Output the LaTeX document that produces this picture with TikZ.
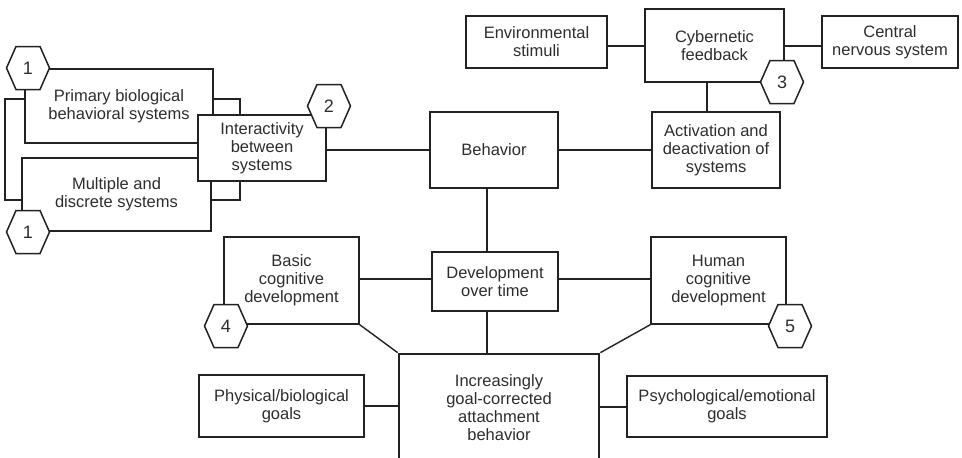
\documentclass[tikz,border=0pt]{standalone}
\usepackage{fontspec}
\setmainfont{Liberation Sans}
\usetikzlibrary{calc,backgrounds}
\definecolor{ink}{HTML}{222222}
\definecolor{txt}{HTML}{2E2E2E}
\tikzset{
  box/.style={draw=ink, line width=1.4pt, fill=white, inner sep=0pt, align=center,
    text=txt, font=\fontsize{16.5}{18}\selectfont},
  heavybox/.style={box, line width=2.7pt},
  midbox/.style={box, line width=2pt},
  link/.style={draw=ink, line width=2pt},
  thinlink/.style={draw=ink, line width=1.4pt},
  hexedge/.style={draw=ink, line width=1.5pt, fill=white},
  hexnum/.style={text=txt, font=\fontsize{18}{18}\selectfont, inner sep=0pt},
}
% numbered hexagon badge: name, x, y, label
\newcommand\hexmark[4]{%
  \begin{scope}[shift={(#2,#3)}]
    \filldraw[hexedge] (-21.5,0) -- (-12,-21.5) -- (12,-21.5) -- (21.5,0)
      -- (12,21.5) -- (-12,21.5) -- cycle;
    \node[hexnum] (#1) at (0,0) {#4};
  \end{scope}}
\begin{document}
\begin{tikzpicture}[x=1pt, y=-1pt]
\useasboundingbox (0,0) rectangle (962,458);
\clip (0,0) rectangle (962,458);

% boxes
\node[box, minimum width=188, minimum height=74] (prim) at (119,106) {Primary biological\\behavioral systems};
\node[box, minimum width=189, minimum height=73] (mult) at (116.5,194.5) {Multiple and\\discrete systems};
\node[midbox, minimum width=128, minimum height=66] (inter) at (262,148) {Interactivity\\between\\systems};
\node[heavybox, minimum width=128, minimum height=76] (beh) at (494,150) {Behavior};
\node[box, minimum width=128, minimum height=76] (act) at (716,150) {Activation and\\deactivation of\\systems};
\node[box, minimum width=139, minimum height=73] (cyb) at (714.5,45.5) {Cybernetic\\feedback};
\node[box, minimum width=141, minimum height=52] (env) at (536.5,42) {Environmental\\stimuli};
\node[box, minimum width=136, minimum height=52] (cns) at (890,42) {Central\\nervous system};
\node[box, minimum width=135, minimum height=87] (basic) at (291.5,280.5) {Basic\\cognitive\\development};
\node[box, minimum width=126, minimum height=59] (dev) at (495,281.5) {Development\\over time};
\node[box, minimum width=135, minimum height=87] (human) at (718.5,280.5) {Human\\cognitive\\development};
\node[heavybox, minimum width=200, minimum height=108] (inc) at (499,408) {Increasingly\\goal-corrected\\attachment\\behavior};
\node[box, minimum width=165, minimum height=62] (phys) at (281.5,406) {Physical/biological\\goals};
\node[box, minimum width=200, minimum height=61] (psych) at (727,406.5) {Psychological/emotional\\goals};

% brackets tying the two system boxes together
\begin{scope}[on background layer]
  \draw[thinlink] (prim.west |- 0,99) -| (5,200) -- (mult.west |- 0,200);
  \draw[thinlink] (prim.east |- 0,99) -| (240,200) -- (mult.east |- 0,200);
\end{scope}

% connectors
\draw[link] (inter.east |- beh.west) -- (beh.west);
\draw[link] (beh.east) -- (act.west);
\draw[link] (env.east |- cyb.west) -- (cyb.west);
\draw[link] (cyb.east) -- (cyb.east -| cns.west);
\draw[link] (cyb.south -| 707,0) -- (act.north -| 707,0);
\draw[link] (beh.south -| 487,0) -- (dev.north -| 487,0);
\draw[link] (dev.south -| 487,0) -- (inc.north -| 487,0);
\draw[link] (basic.east |- 0,279) -- (dev.west |- 0,279);
\draw[link] (dev.east |- 0,279) -- (human.west |- 0,279);
\draw[thinlink] (basic.south east) -- (inc.north west);
\draw[thinlink] (human.south west) -- (inc.north east);
\draw[link] (phys.east) -- (phys.east -| inc.west);
\draw[link] (psych.west) -- (psych.west -| inc.east);

% numbered badges
\hexmark{hexa}{28}{68}{1}
\hexmark{hexb}{28}{232}{1}
\hexmark{hexc}{329}{106}{2}
\hexmark{hexd}{782}{82}{3}
\hexmark{hexe}{226}{326}{4}
\hexmark{hexf}{790}{326}{5}
\end{tikzpicture}
\end{document}
